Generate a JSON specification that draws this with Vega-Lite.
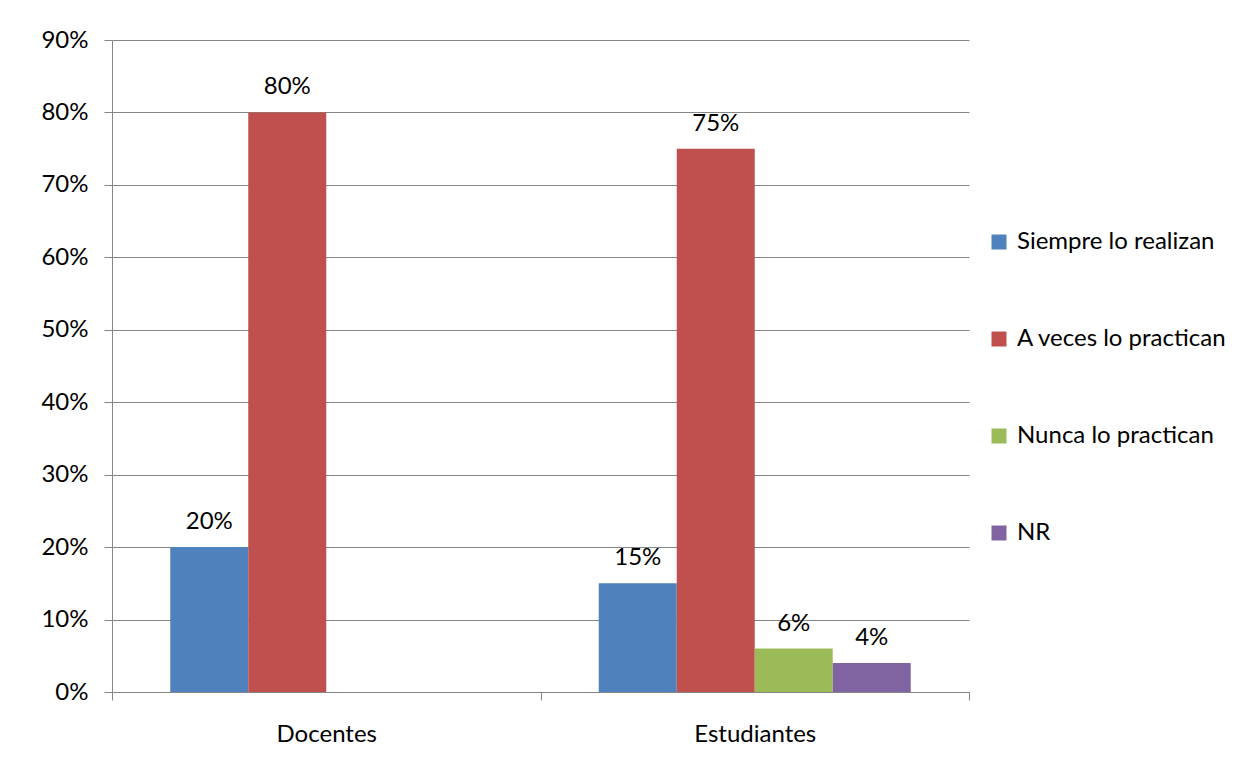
{
  "$schema": "https://vega.github.io/schema/vega-lite/v6.json",
  "width": 857,
  "height": 652,
  "autosize": {"type": "none"},
  "padding": {"left": 112, "top": 40, "right": 278, "bottom": 80},
  "background": "white",
  "config": {"view": {"stroke": null}, "font": "Lato"},
  "data": {
    "values": [
      {"grupo": "Docentes", "serie": "Siempre lo realizan", "valor": 0.20},
      {"grupo": "Docentes", "serie": "A veces lo practican", "valor": 0.80},
      {"grupo": "Estudiantes", "serie": "Siempre lo realizan", "valor": 0.15},
      {"grupo": "Estudiantes", "serie": "A veces lo practican", "valor": 0.75},
      {"grupo": "Estudiantes", "serie": "Nunca lo practican", "valor": 0.06},
      {"grupo": "Estudiantes", "serie": "NR", "valor": 0.04}
    ]
  },
  "encoding": {
    "x": {
      "field": "grupo",
      "type": "nominal",
      "sort": ["Docentes", "Estudiantes"],
      "scale": {"paddingInner": 0, "paddingOuter": 0},
      "axis": {
        "title": null,
        "labelAngle": 0,
        "tickBand": "extent",
        "tickSize": 8,
        "domainColor": "#868686",
        "tickColor": "#868686",
        "labelFontSize": 24,
        "labelPadding": 22,
        "labelColor": "black",
        "grid": false
      }
    },
    "xOffset": {
      "field": "serie",
      "type": "nominal",
      "scale": {
        "domain": ["Siempre lo realizan", "A veces lo practican", "Nunca lo practican", "NR"],
        "paddingInner": 0,
        "paddingOuter": 0.747
      }
    },
    "y": {
      "field": "valor",
      "type": "quantitative",
      "scale": {"domain": [0, 0.9]},
      "axis": {
        "title": null,
        "format": ".0%",
        "values": [0, 0.1, 0.2, 0.3, 0.4, 0.5, 0.6, 0.7, 0.8, 0.9],
        "gridColor": "#868686",
        "domainColor": "#868686",
        "tickColor": "#868686",
        "tickSize": 8,
        "labelFontSize": 24,
        "labelPadding": 16,
        "labelColor": "black"
      }
    }
  },
  "layer": [
    {
      "mark": {"type": "bar"},
      "encoding": {
        "color": {
          "field": "serie",
          "type": "nominal",
          "scale": {
            "domain": ["Siempre lo realizan", "A veces lo practican", "Nunca lo practican", "NR"],
            "range": ["#4F81BD", "#C0504D", "#9BBB59", "#8064A2"]
          },
          "legend": {
            "title": null,
            "orient": "none",
            "legendX": 880,
            "legendY": 190,
            "padding": 0,
            "symbolType": "square",
            "symbolSize": 225,
            "symbolStrokeWidth": 0,
            "symbolOffset": -5,
            "labelFontSize": 24,
            "labelColor": "black",
            "labelOffset": 6,
            "rowPadding": 73,
            "labelLimit": 400
          }
        }
      }
    },
    {
      "mark": {"type": "text", "dy": -18, "baseline": "alphabetic", "fontSize": 24, "color": "black"},
      "encoding": {
        "text": {"field": "valor", "type": "quantitative", "format": ".0%"}
      }
    }
  ]
}
